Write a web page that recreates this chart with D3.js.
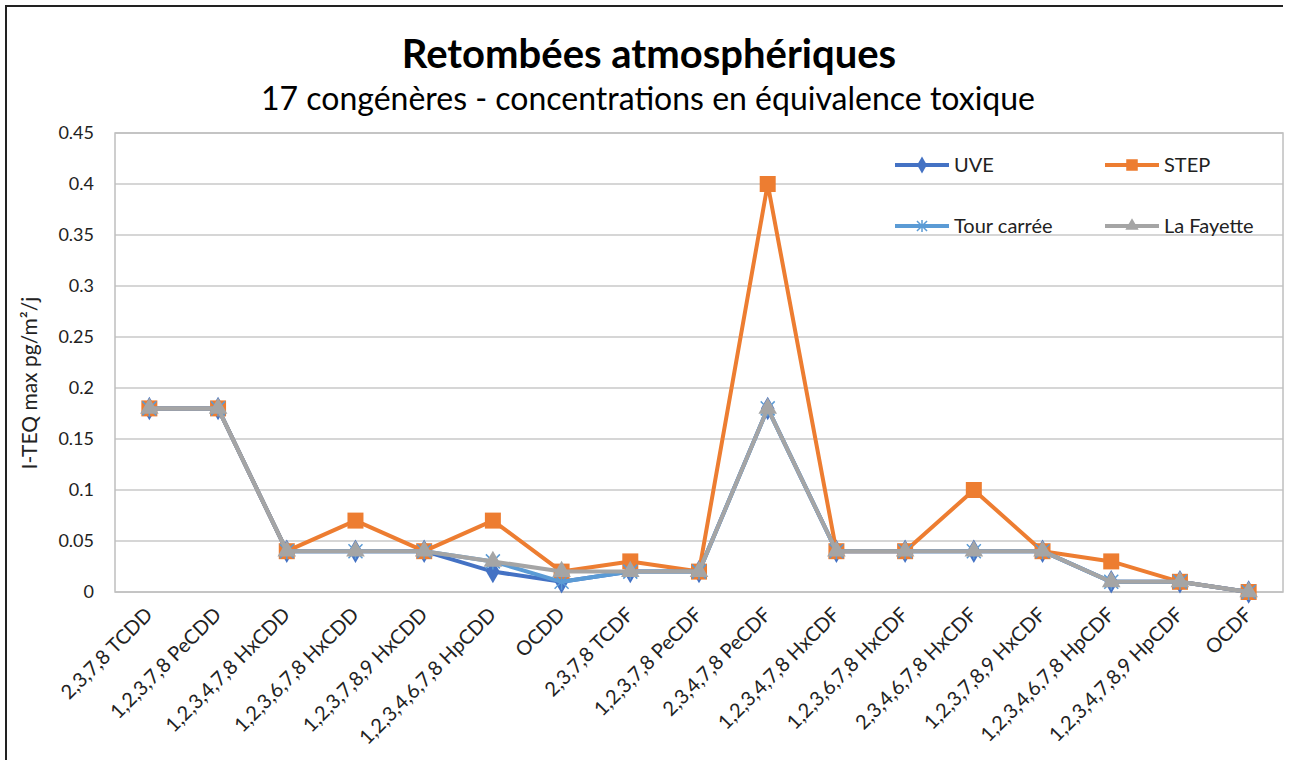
<!DOCTYPE html>
<html>
<head>
<meta charset="utf-8">
<script src="https://cdn.jsdelivr.net/npm/d3@7"></script>
<style>
  body { margin: 0; background: #fff; }
  svg { font-family: Lato, "Open Sans", sans-serif; }
</style>
</head>
<body>
<div class="chart"></div>
<script>
var categories = ["2,3,7,8 TCDD", "1,2,3,7,8 PeCDD", "1,2,3,4,7,8 HxCDD", "1,2,3,6,7,8 HxCDD",
  "1,2,3,7,8,9 HxCDD", "1,2,3,4,6,7,8 HpCDD", "OCDD", "2,3,7,8 TCDF", "1,2,3,7,8 PeCDF",
  "2,3,4,7,8 PeCDF", "1,2,3,4,7,8 HxCDF", "1,2,3,6,7,8 HxCDF", "2,3,4,6,7,8 HxCDF",
  "1,2,3,7,8,9 HxCDF", "1,2,3,4,6,7,8 HpCDF", "1,2,3,4,7,8,9 HpCDF", "OCDF"];

var uve        = [0.18, 0.18, 0.04, 0.04, 0.04, 0.02, 0.01, 0.02, 0.02, 0.18, 0.04, 0.04, 0.04, 0.04, 0.01, 0.01, 0];
var step       = [0.18, 0.18, 0.04, 0.07, 0.04, 0.07, 0.02, 0.03, 0.02, 0.40, 0.04, 0.04, 0.10, 0.04, 0.03, 0.01, 0];
var tourCarree = [0.18, 0.18, 0.04, 0.04, 0.04, 0.03, 0.01, 0.02, 0.02, 0.18, 0.04, 0.04, 0.04, 0.04, 0.01, 0.01, 0];
var laFayette  = [0.18, 0.18, 0.04, 0.04, 0.04, 0.03, 0.02, 0.02, 0.02, 0.18, 0.04, 0.04, 0.04, 0.04, 0.01, 0.01, 0];

var yTicks = [0, 0.05, 0.1, 0.15, 0.2, 0.25, 0.3, 0.35, 0.4, 0.45];

var seriesNames = ["UVE", "STEP", "Tour carrée", "La Fayette"];
var seriesValues = [uve, step, tourCarree, laFayette];
var seriesColors = ["#4472c4", "#ed7d31", "#5b9bd5", "#a5a5a5"];
var seriesMarkers = ["diamond", "square", "star", "triangle"];

var svgWidth = 1290;
var svgHeight = 760;

var margin = { top: 133, right: 7, bottom: 168, left: 115 };
var width = svgWidth - margin.left - margin.right;
var height = svgHeight - margin.top - margin.bottom;

var svg = d3.select(".chart")
  .append("svg")
  .attr("width", svgWidth)
  .attr("height", svgHeight);

// outer frame (only top + left show in the picture)
svg.append("path")
  .attr("d", "M6,760 L6,6 L1283,6")
  .attr("fill", "none")
  .attr("stroke", "#222")
  .attr("stroke-width", 2);

// titles
svg.append("text")
  .attr("x", 649).attr("y", 68)
  .attr("text-anchor", "middle")
  .attr("font-size", "40px")
  .attr("font-weight", "bold")
  .attr("fill", "#000")
  .text("Retombées atmosphériques");

svg.append("text")
  .attr("x", 648).attr("y", 110)
  .attr("text-anchor", "middle")
  .attr("font-size", "32px")
  .attr("fill", "#000")
  .text("17 congénères - concentrations en équivalence toxique");

var chartGroup = svg.append("g")
  .attr("transform", `translate(${margin.left}, ${margin.top})`);

var xScale = d3.scalePoint()
  .domain(categories)
  .range([0, width])
  .padding(0.5);

var yScale = d3.scaleLinear()
  .domain([0, 0.45])
  .range([height, 0]);

// gridlines
chartGroup.selectAll(".grid")
  .data(yTicks)
  .enter()
  .append("line")
  .attr("x1", 0)
  .attr("x2", width)
  .attr("y1", d => yScale(d))
  .attr("y2", d => yScale(d))
  .attr("stroke", "#c8c8c8")
  .attr("stroke-width", 1.3);

// plot border
chartGroup.append("rect")
  .attr("x", 0).attr("y", 0)
  .attr("width", width).attr("height", height)
  .attr("fill", "none")
  .attr("stroke", "#bfbfbf")
  .attr("stroke-width", 1.5);

// y axis
var leftAxis = d3.axisLeft(yScale)
  .tickValues(yTicks)
  .tickSize(0)
  .tickPadding(21)
  .tickFormat(d => d3.format("")(+d.toFixed(2)));

var yAxis = chartGroup.append("g").call(leftAxis);
yAxis.select(".domain").remove();
yAxis.selectAll("text")
  .attr("font-size", "18px")
  .attr("font-family", "Lato, sans-serif")
  .attr("fill", "#222");

// x axis labels, rotated
var bottomAxis = d3.axisBottom(xScale).tickSize(0).tickPadding(0);
var xAxis = chartGroup.append("g")
  .attr("transform", `translate(0, ${height})`)
  .call(bottomAxis);
xAxis.select(".domain").remove();
xAxis.selectAll("text")
  .attr("font-size", "20px")
  .attr("font-family", "Lato, sans-serif")
  .attr("fill", "#222")
  .attr("text-anchor", "end")
  .attr("y", 0)
  .attr("dy", null)
  .attr("transform", "translate(4, 24) rotate(-45)");

// y axis title
svg.append("text")
  .attr("transform", "rotate(-90)")
  .attr("x", -383)
  .attr("y", 37)
  .attr("text-anchor", "middle")
  .attr("font-size", "21px")
  .attr("fill", "#222")
  .text("I-TEQ max pg/m²/j");

function markerPath(type, k) {
  if (type == "diamond") return d3.symbol().type(d3.symbolDiamond).size(160 * k * k)();
  if (type == "square") { var s = 8 * k; return `M${-s},${-s}H${s}V${s}H${-s}Z`; }
  if (type == "triangle") return d3.symbol().type(d3.symbolTriangle).size(150 * k * k)();
  return null;
}

function drawMarker(g, type, color, k) {
  if (type == "star") {
    var a = 7 * k;
    g.append("path")
      .attr("d", `M${-a},${-a}L${a},${a}M${-a},${a}L${a},${-a}M0,${-a - 1}L0,${a + 1}`)
      .attr("stroke", color)
      .attr("stroke-width", 1.5)
      .attr("fill", "none");
  } else {
    g.append("path")
      .attr("d", markerPath(type, k))
      .attr("fill", color);
  }
}

var line = d3.line()
  .x((d, i) => xScale(categories[i]))
  .y(d => yScale(d));

seriesValues.forEach(function(vals, s) {
  chartGroup.append("path")
    .datum(vals)
    .attr("fill", "none")
    .attr("stroke", seriesColors[s])
    .attr("stroke-width", 4)
    .attr("stroke-linejoin", "round")
    .attr("d", line);

  vals.forEach(function(v, i) {
    var g = chartGroup.append("g")
      .attr("transform", `translate(${xScale(categories[i])}, ${yScale(v)})`);
    drawMarker(g, seriesMarkers[s], seriesColors[s], 1);
  });
});

// legend
var legendPos = [[895, 165], [1105, 165], [895, 226], [1105, 226]];
seriesNames.forEach(function(name, s) {
  var lg = svg.append("g")
    .attr("transform", `translate(${legendPos[s][0]}, ${legendPos[s][1]})`);
  lg.append("line")
    .attr("x1", 0).attr("x2", 54)
    .attr("stroke", seriesColors[s])
    .attr("stroke-width", 4);
  var m = lg.append("g").attr("transform", "translate(27, 0)");
  drawMarker(m, seriesMarkers[s], seriesColors[s], 0.72);
  lg.append("text")
    .attr("x", 59).attr("y", 7)
    .attr("font-size", "20px")
    .attr("fill", "#222")
    .text(name);
});
</script>
</body>
</html>
